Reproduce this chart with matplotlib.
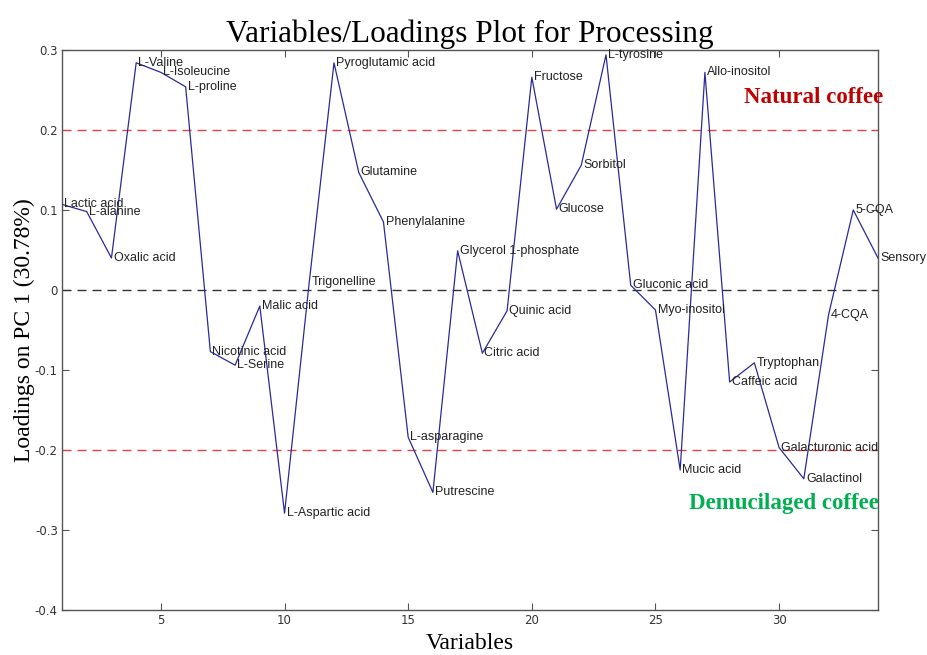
import numpy as np
import matplotlib
matplotlib.use('Agg')
import matplotlib.pyplot as plt

# PC1 loadings for the processing model
variables = ['Lactic acid', 'L-alanine', 'Oxalic acid', 'L-Valine', 'L-Isoleucine',
             'L-proline', 'Nicotinic acid', 'L-Serine', 'Malic acid', 'L-Aspartic acid',
             'Trigonelline', 'Pyroglutamic acid', 'Glutamine', 'Phenylalanine',
             'L-asparagine', 'Putrescine', 'Glycerol 1-phosphate', 'Citric acid',
             'Quinic acid', 'Fructose', 'Glucose', 'Sorbitol', 'L-tyrosine',
             'Gluconic acid', 'Myo-inositol', 'Mucic acid', 'Allo-inositol',
             'Caffeic acid', 'Tryptophan', 'Galacturonic acid', 'Galactinol',
             '4-CQA', '5-CQA', 'Sensory']
loadings = [0.107, 0.098, 0.040, 0.284, 0.272, 0.254, -0.077, -0.094, -0.020, -0.279,
            0.010, 0.284, 0.147, 0.085, -0.184, -0.253, 0.049, -0.079, -0.026, 0.266,
            0.101, 0.156, 0.294, 0.006, -0.025, -0.225, 0.272, -0.115, -0.091, -0.197,
            -0.236, -0.031, 0.100, 0.040]
thresholds = [0.2, -0.2]

x = np.arange(1, len(loadings) + 1)

fig = plt.figure(figsize=(9.27, 6.55), dpi=100)
ax = fig.add_axes([62/927, 1 - 610/655, 816/927, 560/655])

ax.plot(x, loadings, color='#2a2a9a', linewidth=0.9, zorder=3)

for thr in thresholds:
    ax.axhline(thr, color='#e04545', linewidth=1, dashes=(6.5, 4.3), zorder=2)
ax.axhline(0, color='#333333', linewidth=1, dashes=(6.5, 4.3), zorder=2)

for xi, yi, name in zip(x, loadings, variables):
    ax.annotate(name, (xi, yi), xytext=(1.5, 0), textcoords='offset points',
                ha='left', va='center', fontsize=9, family='Liberation Sans',
                color='#222222', zorder=4)

ax.set_xlim(1, 34)
ax.set_ylim(-0.4, 0.3)
ax.set_xticks([5, 10, 15, 20, 25, 30])
ax.set_yticks(np.arange(-0.4, 0.31, 0.1))
ax.set_yticklabels(['-0.4', '-0.3', '-0.2', '-0.1', '0', '0.1', '0.2', '0.3'])
ax.tick_params(direction='in', length=5, top=True, right=True,
               labelsize=8.5, labelcolor='#333333', color='#555555', pad=3)
for lab in ax.get_xticklabels() + ax.get_yticklabels():
    lab.set_family('Liberation Sans Narrow')
for sp in ax.spines.values():
    sp.set_color('#555555')
    sp.set_linewidth(1)

ax.set_title('Variables/Loadings Plot for Processing', family='Liberation Serif',
             fontsize=22.5, pad=6)
ax.set_xlabel('Variables', family='Liberation Serif', fontsize=17, labelpad=4)
ax.set_ylabel('Loadings on PC 1 (30.78%)', family='Liberation Serif', fontsize=17,
              labelpad=0)

ax.text(1.006, 0.916, 'Natural coffee', transform=ax.transAxes, ha='right',
        va='center', family='Liberation Serif', fontweight='bold', fontsize=16.5,
        color='#c00000', clip_on=False)
ax.text(1.001, 0.191, 'Demucilaged coffee', transform=ax.transAxes, ha='right',
        va='center', family='Liberation Serif', fontweight='bold', fontsize=16.5,
        color='#00b050', clip_on=False)

fig.savefig('out.png', dpi=100)
